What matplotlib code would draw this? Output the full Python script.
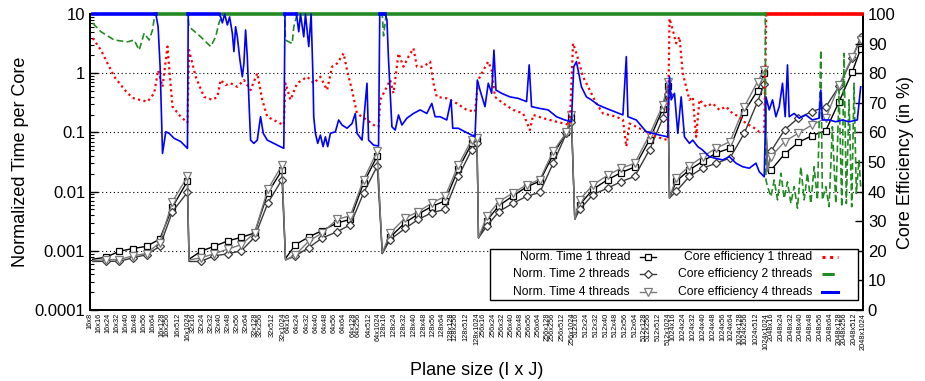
import numpy as np
import matplotlib.pyplot as plt
from matplotlib.patches import Rectangle

plt.rcParams['font.family'] = ['Liberation Sans', 'DejaVu Sans']

# plane sizes on the x axis
sizes_i = [16, 32, 64, 128, 256, 512, 1024, 2048]
sizes_j = [16, 24, 32, 40, 48, 56, 64, 128, 256, 512, 1024]
plane_labels = ['16x8'] + ['%dx%d' % (i, j) for i in sizes_i for j in sizes_j]
plane_pos = [89, 98, 106.7, 116, 124.7, 134, 143, 151.7, 160.7, 165.7, 177.5, 187,
             192, 201, 210, 219, 228, 237, 246, 255, 260, 272, 283,
             288, 297, 306.7, 316, 325, 334, 343, 352.7, 358, 369, 378.3,
             383.3, 393.3, 403.3, 413.3, 423.3, 432.7, 442.3, 450.7, 455, 466, 477,
             483.3, 492.7, 502, 511, 520, 529.3, 538.3, 547, 552, 562.7, 572,
             576.7, 586.7, 596.7, 606.7, 616, 626, 635.3, 644.3, 648.7, 658.7, 668.7,
             673.7, 683.7, 693.7, 703.7, 713.7, 723.7, 732, 741, 746, 757, 767,
             772, 782, 792, 801.3, 811.3, 821.3, 831, 840.3, 845.3, 855.3, 864]

# normalized time per core (left axis)
group_len = [8, 8, 8, 9, 9, 9, 9, 9]
time_x = [91.7, 105, 118.3, 131.7, 145.7, 159, 171.7, 186.7,
          188.3, 200, 213.3, 227.3, 240.7, 254, 267.3, 281.5,
          285, 295, 308.3, 321.7, 336.7, 350, 363.3, 377,
          382, 390, 405, 418.3, 431.7, 445, 458.3, 471.7, 477,
          478.5, 486.7, 499, 513.3, 526.7, 540, 553.3, 566.7, 571.7,
          575, 580, 593.3, 608.3, 621.7, 635, 650, 663.3, 668.3,
          670, 676.7, 690, 703.3, 716.7, 730.7, 745, 758.3, 765,
          768.3, 771.7, 785.5, 799, 812.7, 826.7, 840, 853.3, 861.7]
time_1 = [7.2e-4, 7.8e-4, 9.8e-4, 1.09e-3, 1.19e-3, 1.58e-3, 5.5e-3, 0.015,
          7.2e-4, 9.8e-4, 1.19e-3, 1.47e-3, 1.69e-3, 2.0e-3, 9.5e-3, 0.023,
          7.4e-4, 1.27e-3, 1.71e-3, 2.2e-3, 2.95e-3, 3.4e-3, 0.014, 0.040,
          9e-4, 1.7e-3, 3.0e-3, 4.2e-3, 5.6e-3, 7.0e-3, 0.024, 0.065, 0.075,
          1.65e-3, 3.2e-3, 5.8e-3, 8.5e-3, 0.012, 0.015, 0.042, 0.10, 0.18,
          3.4e-3, 6.0e-3, 0.011, 0.016, 0.021, 0.026, 0.075, 0.25, 0.6,
          7.8e-3, 0.0149, 0.0234, 0.0324, 0.0447, 0.054, 0.225, 0.51, 1.0,
          0.022, 0.023, 0.0435, 0.0676, 0.0877, 0.1076, 0.33, 1.06, 2.6]
time_2 = [6.6e-4, 6.65e-4, 6.65e-4, 7.6e-4, 8.6e-4, 1.19e-3, 4.6e-3, 9.7e-3,
          6.6e-4, 6.6e-4, 8.2e-4, 8.9e-4, 1.0e-3, 1.7e-3, 6.4e-3, 0.016,
          7.0e-4, 8.2e-4, 1.13e-3, 1.64e-3, 2.1e-3, 2.75e-3, 9.5e-3, 0.027,
          9.0e-4, 1.55e-3, 2.4e-3, 3.4e-3, 4.4e-3, 5.0e-3, 0.018, 0.051, 0.066,
          1.65e-3, 2.6e-3, 4.6e-3, 6.4e-3, 8.3e-3, 9.7e-3, 0.030, 0.097, 0.15,
          3.4e-3, 5e-3, 8.9e-3, 0.0115, 0.0148, 0.018, 0.051, 0.174, 0.45,
          7.8e-3, 0.0101, 0.018, 0.025, 0.030, 0.037, 0.097, 0.33, 0.66,
          0.022, 0.048, 0.111, 0.174, 0.225, 0.27, 0.6, 1.8, 4.1]
time_4 = [6.8e-4, 7.1e-4, 7.1e-4, 8.2e-4, 9.0e-4, 1.38e-3, 6.8e-3, 0.018,
          7.0e-4, 7.6e-4, 8.9e-4, 1.07e-3, 1.27e-3, 2.0e-3, 0.0109, 0.028,
          7.0e-4, 8.6e-4, 1.45e-3, 2.0e-3, 3.4e-3, 3.9e-3, 0.016, 0.048,
          9.2e-4, 2.0e-3, 3.6e-3, 4.6e-3, 6.4e-3, 8.3e-3, 0.028, 0.075, 0.080,
          1.65e-3, 3.8e-3, 6.8e-3, 9.5e-3, 0.013, 0.016, 0.048, 0.10, 0.20,
          3.4e-3, 7.3e-3, 0.013, 0.019, 0.025, 0.030, 0.091, 0.29, 0.7,
          7.8e-3, 0.017, 0.027, 0.039, 0.054, 0.070, 0.27, 0.72, 1.14,
          0.022, 0.039, 0.070, 0.097, 0.133, 0.174, 0.63, 1.9, 3.6]

# core efficiency in % (right axis), (x, value)
eff_1 = [(91.7, 91.8), (100, 87.8), (113.3, 78.8), (120, 76), (126.7, 73.2), (133, 71.5), (140, 70.9),
         (146.7, 70.4), (153.3, 73.2), (157.3, 81), (161.7, 75.4), (166.7, 89), (168.3, 82.2),
         (171.7, 68.7), (180, 65.3), (186.7, 63.3),
         (188.3, 87.8), (195, 78.8), (203.3, 72), (211.7, 71), (216.7, 72), (220, 77.7), (225, 76),
         (230, 76.6), (236.7, 75.4), (243.3, 77.7), (250, 74.3), (256.7, 80), (261.7, 71),
         (266.7, 65.3), (280, 63), (283.3, 62.5),
         (285, 76.6), (290, 71), (296.7, 76.6), (306.7, 78.8), (313.3, 76.6), (320, 78.8),
         (326.7, 74.3), (331.7, 82.2), (336.7, 83.3), (343.3, 86.7), (346.7, 81), (351.7, 74.3),
         (356.7, 66.4), (366.7, 64.2), (373.3, 62.5), (378.3, 61.9),
         (380, 71), (383.3, 73.2), (390, 77.7), (393.3, 73.2), (398.3, 86.7), (403.3, 82.2),
         (408.3, 85.6), (413.3, 88.4), (416.7, 82.2), (423.3, 82.2), (430, 83.9), (433.3, 76.6),
         (436.7, 72), (446.7, 71.5), (456.7, 69.8), (466.7, 67.6), (475, 67),
         (478.3, 77.7), (483.3, 81), (488.3, 83.9), (491.7, 81), (495, 72), (503.3, 69.8),
         (513.3, 67.6), (523.3, 66.4), (530, 60.8), (533.3, 65.9), (543.3, 64.8), (556.7, 63.6),
         (570, 62.5),
         (573.3, 90.1), (576.7, 86.7), (583.3, 78.8), (590, 74.3), (596.7, 69.8), (603.3, 66.4),
         (616.7, 65.3), (623.3, 64.2), (626.7, 55.2), (630, 63), (643.3, 60.8), (656.7, 58.5),
         (668.3, 57.4),
         (670, 98.5), (673.3, 94.6), (676.7, 90.1), (680, 92.3), (683.3, 80), (686.7, 75.4),
         (690, 71), (693.3, 72), (696.7, 58.5), (700, 71), (706.7, 68.7), (713.3, 69.8),
         (720, 67.6), (726.7, 68.7), (733.3, 66.4), (740, 65.3), (746.7, 63), (753.3, 61.9),
         (760, 60.2), (765, 60.2),
         (767, 100), (863, 100)]

eff_2 = [(91.7, 96.9), (100, 94), (113.3, 91.2), (126.7, 90.6), (133.3, 91.2), (138.3, 87.8),
         (143.3, 93.5), (148.3, 91.2), (151.7, 94.6), (154, 100), (187, 100),
         (188.3, 95.7), (200, 92.3), (210, 89), (215, 92.3), (218.3, 97), (222, 100), (284, 100),
         (285, 91.2), (291.7, 90), (293.3, 95.7), (296.7, 100), (382, 100),
         (383.3, 92.6), (386, 100), (766, 100),
         (766.7, 43.9), (768.3, 41.7), (771.7, 38.3), (775, 43.9), (778.3, 37.2), (781.7, 46.2),
         (785, 37.7), (788.3, 43.3), (791.7, 36), (795, 41.7), (798.3, 34.4), (801.7, 48.4),
         (805, 37.2), (808.3, 46.2), (811.7, 36), (815, 48.4), (818.3, 37.2), (821.7, 87.8),
         (823.3, 37.2), (826.7, 41.7), (830, 34.9), (833.3, 61.9), (836.7, 36), (840, 74.3),
         (842.7, 34.9), (845, 86.7), (847.3, 36), (850, 71), (852.7, 34.9), (855, 76.6),
         (857.3, 39.4), (860, 50.7), (861.7, 41.7)]

eff_4 = [(91.7, 100), (155, 100), (157.3, 95.7), (159.3, 82.2), (161.7, 52.9), (165, 60.2),
         (168.3, 59.7), (173.3, 58), (180, 56.9), (185, 55.2), (186.7, 54.6),
         (187.5, 100), (218, 100), (220, 99), (221.7, 97), (224, 100), (226.7, 96.3), (229, 99),
         (231.7, 93.5), (233.3, 87.3), (235, 95.7), (236.7, 92.3), (239.3, 84.5), (241.7, 78.8),
         (243.3, 83.3), (245, 94.6), (246.7, 85.6), (248.3, 71), (250, 57.4), (253.3, 56.3),
         (256.7, 57.4), (260, 65.3), (262.7, 59.7), (266.7, 57.4), (273.3, 56.3), (280, 55.2),
         (283.3, 54.6),
         (284.5, 100), (296, 100), (298.3, 94), (300, 100), (303.3, 92.3), (305, 100),
         (308.3, 89), (310.7, 100), (312.7, 76.6), (313.3, 65.3), (315, 59.7), (317.3, 56.3),
         (320, 59.1), (322.7, 55.2), (325, 58.5), (327.3, 55.2), (330, 59.7), (335, 60.2),
         (338.3, 64.2), (341.7, 62.5), (346.7, 61.4), (351.7, 63), (355, 66.4), (356.7, 59.7),
         (361.7, 57.4), (366.7, 76.6), (368.3, 57.4), (373.3, 55.7), (378.3, 55.4),
         (379.5, 100), (385, 100), (386.7, 98), (388.3, 84.5), (391.7, 61.9), (395, 60.8),
         (398.3, 65.9), (401.7, 62.5), (406.7, 64.8), (413.3, 66.4), (420, 67.6), (426.7, 66.4),
         (431.7, 69.8), (435, 65.3), (440, 65.3), (446.7, 64.2), (451, 71), (452.7, 61.4),
         (458.3, 61.4), (465, 60.2), (471.7, 59.1), (475, 58.5),
         (477.3, 77.7), (480, 74.3), (485, 68.7), (488.3, 76.6), (491.7, 73.2), (494, 87.8),
         (496, 74.3), (501.7, 73.2), (510, 72), (518.3, 71.5), (526.7, 70.4), (529.3, 82.8),
         (531.7, 68.7), (540, 68.1), (548.3, 67.6), (556.7, 65.3), (565, 64.2), (571.7, 63.6),
         (574, 82.2), (576.7, 83.9), (581.7, 75.4), (586.7, 72), (591.7, 71), (598.3, 69.3),
         (606.7, 68.1), (615, 67), (623.3, 65.9), (626.7, 85.6), (628.3, 65.3), (636.7, 64.2),
         (646.7, 60.2), (653.3, 59.7), (660, 59.1), (668.3, 58.5),
         (670, 78.8), (671.7, 71), (675, 73.2), (678.3, 59.7), (681.7, 72), (685, 58.5),
         (690, 56.3), (693.3, 57.4), (698.3, 55.2), (703.3, 54), (710, 51.8), (716.7, 51.2),
         (723.3, 50.7), (730, 51.8), (736.7, 49.6), (743.3, 48.4), (750, 47.9), (756.7, 49.6),
         (760, 46.7), (765, 45),
         (766.7, 72), (770, 67.6), (773.3, 71), (776.7, 65.3), (780, 68.7), (783.3, 76.6),
         (786, 65.3), (788.3, 82.8), (790, 65.3), (795, 66.4), (800, 64.8), (806.7, 65.9),
         (813.3, 64.2), (820, 64.8), (821.7, 74.3), (823.3, 64.2), (830, 64.2), (836.7, 63.6),
         (843.3, 64.2), (850, 63.6), (858.3, 64.2), (861.7, 75.4)]

fig = plt.figure(figsize=(9.25, 3.81), dpi=100)
ax = fig.add_axes([90 / 925, 71 / 381, 773 / 925, 296 / 381])
ax2 = ax.twinx()

# markers on every sample except the first point of each plane group
starts = np.cumsum([0] + group_len[:-1])
mark = [i not in starts for i in range(len(time_x))]

time_styles = [
    (time_1, 'black', 's', 4.5, 'Norm. Time 1 thread'),
    (time_2, '#3a3a3a', 'D', 4.2, 'Norm. Time 2 threads'),
    (time_4, '#7a7a7a', 'v', 5.5, 'Norm. Time 4 threads'),
]
for vals, c, m, ms, lab in time_styles:
    ax.plot(time_x, vals, color=c, lw=1.0, marker=m, ms=ms, mfc='white', mec=c, mew=0.9,
            markevery=mark)

eff_styles = [
    (eff_1, 'red', (0, (1, 1.5)), 1.6, 'Core efficiency 1 thread'),
    (eff_2, '#228b22', (0, (4, 2)), 1.2, 'Core efficiency 2 threads'),
    (eff_4, 'blue', '-', 1.2, 'Core efficiency 4 threads'),
]
for data, c, ls, lw, lab in eff_styles:
    ex, ey = np.array(data).T
    ax2.plot(ex, ey, color=c, lw=lw, ls=ls, clip_on=False, zorder=3)
    # saturated (100 %) stretches show as a solid band on the top border
    ax2.plot(ex, np.where(ey >= 100, ey, np.nan), color=c, lw=2.6, clip_on=False, zorder=3)

ax.set_yscale('log')
ax.set_ylim(1e-4, 10)
ax.set_xlim(89, 864)
ax2.set_ylim(0, 100)

for yv in [1, 0.1, 0.01, 0.001]:
    ax.axhline(yv, color='black', lw=0.8, ls=(0, (1, 2.5)), zorder=0)

ax.set_yticks([1e-4, 1e-3, 1e-2, 0.1, 1, 10])
ax.set_yticklabels(['0.0001', '0.001', '0.01', '0.1', '1', '10'])
ax.set_xticks(plane_pos)
ax.set_xticklabels(plane_labels, rotation=90, fontsize=5.3)
ax.tick_params(axis='x', length=0, pad=2)
ax.tick_params(axis='y', which='major', direction='in', length=6, labelsize=12, width=1)
ax.tick_params(axis='y', which='minor', direction='in', length=3, width=0.8)
ax2.set_yticks(range(0, 101, 10))
ax2.tick_params(axis='y', direction='in', length=6, labelsize=12, width=1)

for a in (ax, ax2):
    for s in a.spines.values():
        s.set_linewidth(1.3)

ax.set_ylabel('Normalized Time per Core', fontsize=13)
ax.yaxis.set_label_coords(-0.079, 0.5)
ax2.set_ylabel('Core Efficiency (in %)', fontsize=13)
ax2.yaxis.set_label_coords(1.044, 0.5)
ax.set_xlabel('Plane size (I x J)', fontsize=13)
ax.xaxis.set_label_coords(0.5, -0.175)

# key box, gnuplot style: right-justified text, sample to the right
tr = ax2.transAxes
ax2.add_patch(Rectangle((0.5175, 0.034), 0.476, 0.172, transform=tr, facecolor='white',
                        edgecolor='black', lw=1.0, zorder=4, clip_on=False))
row_y = [0.178, 0.120, 0.060]
for k, (vals, c, m, ms, lab) in enumerate(time_styles):
    ax2.text(0.6986, row_y[k], lab, transform=tr, ha='right', va='center', fontsize=8.7, zorder=5)
    ax2.plot([0.7115, 0.7219, 0.7322], [row_y[k]] * 3, transform=tr, color=c, lw=1.0,
             marker=m, ms=ms, mfc='white', mec=c, mew=0.9, markevery=[1], zorder=5, clip_on=False)
for k, (data, c, ls, lw, lab) in enumerate(eff_styles):
    ax2.text(0.934, row_y[k], lab, transform=tr, ha='right', va='center', fontsize=8.7, zorder=5)
    ax2.plot([0.9466, 0.968], [row_y[k]] * 2, transform=tr, color=c, lw=2.2,
             ls=ls, zorder=5, clip_on=False)

fig.savefig('out.png', dpi=100)
